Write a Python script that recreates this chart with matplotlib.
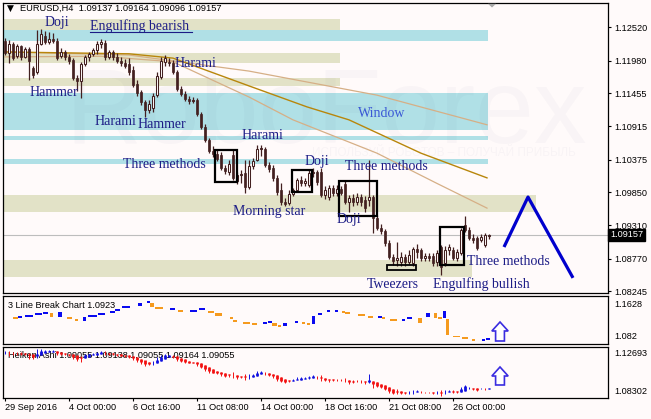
import matplotlib
matplotlib.use("Agg")
import matplotlib.pyplot as plt
import matplotlib.transforms as mtransforms
from matplotlib.patches import Rectangle, Polygon
import numpy as np

# ---------------- data ----------------
opens = [1.1230, 1.1210, 1.1225, 1.1205, 1.1222, 1.1204, 1.1217, 1.1186, 1.1180, 1.1225,
         1.1238, 1.1228, 1.1233, 1.1230, 1.1205, 1.1212, 1.1204, 1.1199, 1.1170, 1.1165,
         1.1192, 1.1204, 1.1209, 1.1215, 1.1225, 1.1227, 1.1204, 1.1212, 1.1204, 1.1197,
         1.1194, 1.1192, 1.1183, 1.1160, 1.1147, 1.1131, 1.1118, 1.1121, 1.1142, 1.1171,
         1.1196, 1.1196, 1.1194, 1.1180, 1.1152, 1.1144, 1.1136, 1.1132, 1.1134, 1.1111,
         1.1090, 1.1069, 1.1051, 1.1046, 1.1045, 1.1024, 1.1017, 1.1045, 1.1003, 1.1012,
         1.1016, 1.0993, 1.1027, 1.1037, 1.1054, 1.1054, 1.1029, 1.1024, 1.1008, 1.0988,
         1.0969, 1.0967, 1.0982, 1.0988, 1.1005, 1.0999, 1.0996, 1.1016, 1.1017, 1.1017,
         1.0980, 1.0977, 1.0991, 1.0983, 1.0990, 1.0998, 1.0969, 1.0975, 1.0969, 1.0977,
         1.0972, 1.0972, 1.0977, 1.0943, 1.0927, 1.0922, 1.0902, 1.0880, 1.0875, 1.0872,
         1.0880, 1.0872, 1.0870, 1.0893, 1.0891, 1.0878, 1.0881, 1.0881, 1.0872, 1.0896,
         1.0870, 1.0891, 1.0891, 1.0878, 1.0886, 1.0932, 1.0924, 1.0910, 1.0910, 1.0907,
         1.0899, 1.09137]
highs = [1.1235, 1.1231, 1.1228, 1.1225, 1.1223, 1.1220, 1.1220, 1.1189, 1.1248, 1.1249,
         1.1246, 1.1244, 1.1243, 1.1235, 1.1218, 1.1215, 1.1209, 1.1202, 1.1175, 1.1196,
         1.1207, 1.1212, 1.1218, 1.1230, 1.1233, 1.1231, 1.1215, 1.1215, 1.1210, 1.1204,
         1.1201, 1.1202, 1.1189, 1.1167, 1.1150, 1.1134, 1.1134, 1.1146, 1.1180, 1.1204,
         1.1207, 1.1202, 1.1199, 1.1183, 1.1157, 1.1149, 1.1141, 1.1139, 1.1137, 1.1115,
         1.1095, 1.1072, 1.1059, 1.1053, 1.1050, 1.1029, 1.1037, 1.1053, 1.1017, 1.1021,
         1.1037, 1.1037, 1.1040, 1.1061, 1.1061, 1.1058, 1.1034, 1.1029, 1.1012, 1.0999,
         1.0975, 1.0988, 1.0991, 1.1008, 1.1011, 1.1008, 1.1021, 1.1024, 1.1021, 1.1024,
         1.0995, 1.0996, 1.0996, 1.0996, 1.0995, 1.1003, 1.0980, 1.0982, 1.0983, 1.0982,
         1.0978, 1.1037, 1.0980, 1.0948, 1.0933, 1.0925, 1.0907, 1.0885, 1.0904, 1.0888,
         1.0885, 1.0891, 1.0896, 1.0901, 1.0894, 1.0886, 1.0886, 1.0886, 1.0891, 1.0899,
         1.0898, 1.0901, 1.0896, 1.0893, 1.0927, 1.0946, 1.0928, 1.0917, 1.0914, 1.0917,
         1.0919, 1.09164]
lows = [1.1207, 1.1194, 1.1199, 1.1202, 1.1199, 1.1202, 1.1167, 1.1170, 1.1176, 1.1223,
        1.1225, 1.1225, 1.1227, 1.1199, 1.1202, 1.1199, 1.1192, 1.1167, 1.1149, 1.1137,
        1.1189, 1.1197, 1.1205, 1.1209, 1.1218, 1.1199, 1.1201, 1.1199, 1.1194, 1.1189,
        1.1186, 1.1175, 1.1155, 1.1141, 1.1126, 1.1106, 1.1113, 1.1115, 1.1139, 1.1168,
        1.1189, 1.1189, 1.1176, 1.1149, 1.1141, 1.1132, 1.1128, 1.1129, 1.1108, 1.1087,
        1.1066, 1.1048, 1.1042, 1.1035, 1.1021, 1.1014, 1.1012, 1.1005, 1.0998, 1.0999,
        1.0983, 1.0990, 1.1022, 1.1035, 1.1043, 1.1025, 1.1017, 1.1003, 1.0980, 1.0964,
        1.0962, 1.0964, 1.0978, 1.0985, 1.0995, 1.0995, 1.0993, 1.1009, 1.0996, 1.0977,
        1.0974, 1.0972, 1.0978, 1.0978, 1.0980, 1.0966, 1.0953, 1.0962, 1.0964, 1.0962,
        1.0953, 1.0962, 1.0919, 1.0924, 1.0917, 1.0898, 1.0876, 1.0867, 1.0865, 1.0865,
        1.0865, 1.0868, 1.0865, 1.0878, 1.0873, 1.0873, 1.0873, 1.0865, 1.0865, 1.0851,
        1.0865, 1.0883, 1.0875, 1.0873, 1.0883, 1.0920, 1.0907, 1.0902, 1.0891, 1.0904,
        1.0896, 1.09096]
closes = [1.1210, 1.1225, 1.1202, 1.1222, 1.1204, 1.1217, 1.1197, 1.1175, 1.1225, 1.1241,
          1.1228, 1.1233, 1.1230, 1.1202, 1.1212, 1.1204, 1.1197, 1.1170, 1.1165, 1.1192,
          1.1204, 1.1209, 1.1215, 1.1225, 1.1228, 1.1204, 1.1212, 1.1204, 1.1197, 1.1194,
          1.1189, 1.1180, 1.1158, 1.1146, 1.1131, 1.1118, 1.1128, 1.1141, 1.1173, 1.1197,
          1.1202, 1.1194, 1.1180, 1.1152, 1.1144, 1.1136, 1.1132, 1.1134, 1.1111, 1.1090,
          1.1069, 1.1051, 1.1046, 1.1038, 1.1024, 1.1019, 1.1030, 1.1008, 1.1012, 1.1014,
          1.0993, 1.1027, 1.1035, 1.1054, 1.1056, 1.1029, 1.1022, 1.1008, 1.0985, 1.0969,
          1.0966, 1.0982, 1.0988, 1.1005, 1.0999, 1.1003, 1.1016, 1.1017, 1.1001, 1.0980,
          1.0988, 1.0991, 1.0983, 1.0990, 1.0983, 1.0969, 1.0975, 1.0969, 1.0977, 1.0969,
          1.0959, 1.0977, 1.0943, 1.0927, 1.0922, 1.0902, 1.0880, 1.0873, 1.0878, 1.0880,
          1.0872, 1.0883, 1.0893, 1.0888, 1.0878, 1.0881, 1.0878, 1.0870, 1.0886, 1.0863,
          1.0891, 1.0896, 1.0878, 1.0888, 1.0924, 1.0924, 1.0910, 1.0907, 1.0894, 1.0912,
          1.0915, 1.09157]

# moving averages (bar index, price)
ma_slow_x = [0, 31, 61, 93, 120.5]
ma_slow_y = [1.1212, 1.1207, 1.1181, 1.1142, 1.1094]
ma_mid_x = [0, 31, 42, 61, 75.5, 86, 104, 120.5]
ma_mid_y = [1.1212, 1.1209, 1.1202, 1.1157, 1.1123, 1.1102, 1.1048, 1.1008]
ma_fast_x = [0, 24, 42, 61, 72, 93, 108, 120.5]
ma_fast_y = [1.1204, 1.1205, 1.1196, 1.1139, 1.1102, 1.1048, 1.0999, 1.0959]

# support / resistance zones: (top, bottom, end bar, kind)
zone_top = [1.1265, 1.1248, 1.1210, 1.1170, 1.1146, 1.1076, 1.1038, 1.0980, 1.0875]
zone_bot = [1.1248, 1.1230, 1.1194, 1.1157, 1.1086, 1.1069, 1.1030, 1.0953, 1.0847]
zone_end = [83.75, 120.75, 83.75, 83.75, 120.75, 120.75, 120.75, 132.75, 116.75]
zone_kind = ["b", "w", "b", "b", "w", "w", "w", "b", "b"]

# forecast zigzag
zig_x = [124.75, 130.75, 142]
zig_y = [1.0896, 1.0977, 1.0846]

price_ticks = [1.12520, 1.11980, 1.11455, 1.10915, 1.10375, 1.09850, 1.09310, 1.08770, 1.08245]
last_price = 1.09157

# 3 Line Break bricks
lb_start = [2, 3.25, 5, 7.5, 9.5, 11.25, 13.25, 15.5, 17.5, 19.5, 20.75, 23.25, 26.25, 27.5, 29.25,
            33.25, 35.5, 36.25, 37.5, 41.25, 43.25, 46.25, 48.5, 50.75, 52.5, 56.25, 57, 59.5, 61.75,
            64.5, 65.75, 66.75, 68.25, 69.5, 72.5, 74.25, 75.5, 76.75, 78.25, 80.5, 82.5, 84.25, 85,
            88.25, 90.75, 93.25, 94.25, 96.25, 99.25, 100.5, 103.25, 105.25, 107.25, 108.25, 109.5,
            110.25, 112, 114.25, 116.75, 119.25, 120.25]
lb_end = [3.25, 4.25, 7, 9.25, 10.75, 12, 14.25, 16.75, 18.25, 20.25, 23, 25, 27.5, 28.75, 31.25,
          34.25, 36.25, 37.25, 39.5, 42.5, 44.5, 48, 50, 52.25, 54.25, 57, 58, 61.25, 63,
          65.5, 66.75, 68, 69, 70.5, 73.25, 75, 76.25, 77.5, 79.25, 81.25, 83.25, 85, 86.25,
          90, 92, 94.25, 95, 98, 100, 101.75, 104.25, 106.25, 108, 109.25, 110.25,
          111, 113.75, 115.75, 117.5, 120, 121.25]
lb_high = [1.1258, 1.1274, 1.1291, 1.1325, 1.1342, 1.1342, 1.1359, 1.1258, 1.1224, 1.1274, 1.1291,
           1.1325, 1.1359, 1.1392, 1.1443, 1.1510, 1.1544, 1.1510, 1.1426, 1.1409, 1.1375, 1.1375,
           1.1409, 1.1359, 1.1342, 1.1258, 1.1207, 1.1173, 1.1157, 1.1173, 1.1190, 1.1173, 1.1123,
           1.1173, 1.1190, 1.1190, 1.1157, 1.1291, 1.1342, 1.1375, 1.1375, 1.1375, 1.1342, 1.1308,
           1.1274, 1.1274, 1.1258, 1.1224, 1.1224, 1.1258, 1.1258, 1.1342, 1.1342, 1.1258, 1.1375,
           1.1241, 1.0946, 1.0921, 1.0887, 1.0887, 1.0921]
lb_low = [1.1258, 1.1274, 1.1291, 1.1325, 1.1342, 1.1274, 1.1274, 1.1258, 1.1224, 1.1207, 1.1291,
          1.1325, 1.1359, 1.1392, 1.1443, 1.1460, 1.1510, 1.1443, 1.1426, 1.1409, 1.1375, 1.1375,
          1.1409, 1.1359, 1.1291, 1.1258, 1.1207, 1.1173, 1.1157, 1.1173, 1.1190, 1.1123, 1.1123,
          1.1123, 1.1190, 1.1157, 1.1157, 1.1157, 1.1308, 1.1375, 1.1375, 1.1342, 1.1342, 1.1308,
          1.1274, 1.1274, 1.1258, 1.1224, 1.1224, 1.1258, 1.1173, 1.1274, 1.1258, 1.1258, 1.1258,
          1.0971, 1.0946, 1.0921, 1.0887, 1.0887, 1.0887]
lb_up = [0, 1, 1, 1, 1, 0, 1, 0, 0, 1, 1, 1, 1, 1, 1, 1, 1, 0, 0, 1, 0, 1, 1, 0, 0, 0, 0, 0, 0,
         1, 1, 0, 0, 1, 1, 0, 0, 1, 1, 1, 1, 0, 0, 0, 0, 1, 0, 0, 1, 1, 0, 1, 0, 0, 1,
         0, 0, 0, 0, 1, 1]

x_tick_pos = [0, 16, 32, 48, 64, 80, 96, 112]
x_tick_lab = ["29 Sep 2016", "4 Oct 00:00", "6 Oct 16:00", "11 Oct 08:00",
              "14 Oct 00:00", "18 Oct 16:00", "21 Oct 08:00", "26 Oct 00:00"]

# ---------------- style ----------------
BG = "#FFFAFA"
CANDLE = "#432020"
BEIGE = "#E2E2C7"
BLUEZ = "#B0E0E6"
TXT = "#1C1C86"
SANS = "Liberation Sans"
SERIF = "Liberation Serif"
FS = 6.6

fig = plt.figure(figsize=(6.51, 4.19), dpi=100, facecolor=BG)
W, H = 651.0, 419.0
ax = fig.add_axes([3 / W, 1 - 293 / H, 605 / W, 290 / H])
ax2 = fig.add_axes([3 / W, 1 - 344 / H, 605 / W, 48 / H])
ax3 = fig.add_axes([3 / W, 1 - 398 / H, 605 / W, 51 / H])

XL = (-0.5, 150.75)
for a in (ax, ax2, ax3):
    a.set_facecolor(BG)
    a.set_xlim(*XL)
    for s in a.spines.values():
        s.set_linewidth(0.9)
        s.set_color("black")

n = len(closes)
xs = np.arange(n)
o = np.array(opens); h = np.array(highs); l = np.array(lows); c = np.array(closes)

# ---------------- main panel ----------------
ax.set_ylim(1.08215, 1.12913)
for top, bot, xe, kind in zip(zone_top, zone_bot, zone_end, zone_kind):
    ax.add_patch(Rectangle((XL[0], bot), xe - XL[0], top - bot,
                           fc=BEIGE if kind == "b" else BLUEZ, ec="none", zorder=1))

# watermark
ax.text(15, 1.1065, "RoboForex", fontsize=76, family=SANS, color="#303070", alpha=0.028,
        ha="left", va="baseline", zorder=1.5)
ax.text(76.75, 1.1048, "ИСПОЛЬЗУЙ РОБОТОВ – ПОЛУЧАЙ ПРИБЫЛЬ", fontsize=8.5, family=SANS,
        color="#303070", alpha=0.03, ha="left", va="center", zorder=1.5)

ax.axhline(last_price, color="#BDBDBD", lw=0.8, zorder=1.6)

ax.plot(ma_slow_x, ma_slow_y, color="#D6AF86", lw=0.9, zorder=2)
ax.plot(ma_fast_x, ma_fast_y, color="#D6AF86", lw=0.9, zorder=2)
ax.plot(ma_mid_x, ma_mid_y, color="#B8860B", lw=1.0, zorder=2)

bw = 0.74
for i in range(n):
    ax.vlines(xs[i], l[i], h[i], color=CANDLE, lw=0.9, zorder=3)
    lo_b, hi_b = min(o[i], c[i]), max(o[i], c[i])
    hgt = max(hi_b - lo_b, 0.00008)
    if c[i] >= o[i]:
        ax.add_patch(Rectangle((xs[i] - bw / 2, lo_b), bw, hgt, fc=BG, ec=CANDLE, lw=0.75, zorder=4))
    else:
        ax.add_patch(Rectangle((xs[i] - bw / 2, lo_b), bw, hgt, fc=CANDLE, ec=CANDLE, lw=0.5, zorder=4))

# pattern boxes
boxes = [(52.5, 1.1001, 58.0, 1.1053), (71.75, 1.0985, 76.75, 1.1021),
         (83.5, 1.0946, 93.0, 1.1003), (108.75, 1.0867, 114.75, 1.0928)]
for x0, y0, x1, y1 in boxes:
    ax.add_patch(Rectangle((x0, y0), x1 - x0, y1 - y0, fill=False, ec="black", lw=1.6, zorder=5))
ax.add_patch(Rectangle((95.5, 1.0859), 7.25, 0.0008, fill=False, ec="black", lw=1.3, zorder=5))

ax.plot(zig_x, zig_y, color="#0000CD", lw=2.3, zorder=5, solid_capstyle="butt")

labels = [("Doji", 10, 1.1259), ("Engulfing bearish", 21.25, 1.1254), ("Harami", 42.5, 1.1194),
          ("Hammer", 6.25, 1.1146), ("Harami", 22.5, 1.1100), ("Hammer", 33.25, 1.1094),
          ("Harami", 59.25, 1.1077), ("Three methods", 29.5, 1.1029), ("Doji", 75, 1.1034),
          ("Three methods", 85, 1.1026), ("Morning star", 57, 1.0954), ("Doji", 83, 1.0941),
          ("Tweezers", 90.5, 1.0836), ("Engulfing bullish", 107, 1.0836),
          ("Three methods", 115.5, 1.0873)]
for s, x, y in labels:
    ax.text(x, y, s, fontsize=10, family=SERIF, color=TXT, ha="left", va="center", zorder=6)
ax.plot([21.25, 46.75], [1.1245, 1.1245], color=TXT, lw=0.8, zorder=6)
ax.text(88.25, 1.1113, "Window", fontsize=10, family=SERIF, color="#3A58D6",
        ha="left", va="center", zorder=6)

ax.add_patch(Polygon([[120.75, 1.1290], [122.75, 1.1290], [121.75, 1.1284]],
                     closed=True, fc="#A8A8A8", ec="none", zorder=6))

ax.yaxis.tick_right()
ax.set_yticks(price_ticks)
ax.set_yticklabels([f"{v:.5f}" for v in price_ticks], family=SANS, fontsize=FS)
ax.tick_params(axis="y", length=2.2, width=0.8, pad=2.2, direction="out")
ax.set_xticks([])

bt = mtransforms.blended_transform_factory(ax.transAxes, ax.transData)
ax.text(1.0035, last_price, f"{last_price:.5f}", transform=bt, fontsize=FS, family=SANS,
        color="white", ha="left", va="center", zorder=10, clip_on=False,
        bbox=dict(boxstyle="square,pad=0.18", fc="black", ec="black"))

ax.text(0.4, 1.12820, "▼", fontsize=6.5, family="DejaVu Sans", color="black",
        ha="left", va="center", zorder=7)
ax.text(3.75, 1.12820, "EURUSD,H4  1.09137 1.09164 1.09096 1.09157", fontsize=FS + 0.1,
        family=SANS, color="black", ha="left", va="center", zorder=7)

# ---------------- 3 line break panel ----------------
ax2.set_ylim(1.082, 1.1628)
for x0, x1, hi, lo, up in zip(lb_start, lb_end, lb_high, lb_low, lb_up):
    col = "#0A0AF0" if up else "#F59A1E"
    if hi - lo < 0.003:
        ax2.add_patch(Rectangle((x0, lo - 0.0014), x1 - x0, 0.0028, fc=col, ec="none", zorder=3))
    else:
        ax2.add_patch(Rectangle((x0, lo), x1 - x0, hi - lo, fc=col, ec="none", zorder=3))
ax2.set_xticks([]); ax2.set_yticks([])
ax2.text(0.008, 0.81, "3 Line Break Chart 1.0923", transform=ax2.transAxes, fontsize=FS,
         family=SANS, color="black", ha="left", va="center")
ax2.text(1.0099, 0.833, "1.1628", transform=ax2.transAxes, fontsize=FS, family=SANS,
         ha="left", va="center", clip_on=False)
ax2.text(1.0099, 0.146, "1.082", transform=ax2.transAxes, fontsize=FS, family=SANS,
         ha="left", va="center", clip_on=False)


def up_arrow(a, x0, x1, tip, base, bottom):
    xm = (x0 + x1) / 2
    sw = (x1 - x0) * 0.27
    pts = [[xm, tip], [x1, base], [xm + sw, base], [xm + sw, bottom],
           [xm - sw, bottom], [xm - sw, base], [x0, base]]
    a.add_patch(Polygon(pts, closed=True, transform=a.transAxes, fc="white",
                        ec="#3A2CE0", lw=1.2, zorder=8))


up_arrow(ax2, 0.808, 0.835, 0.458, 0.271, 0.0625)

# ---------------- heiken ashi panel ----------------
ha_c = (o + h + l + c) / 4
ha_o = np.empty(n)
ha_o[0] = (o[0] + c[0]) / 2
for i in range(1, n):
    ha_o[i] = (ha_o[i - 1] + ha_c[i - 1]) / 2
ha_h = np.maximum.reduce([h, ha_o, ha_c])
ha_l = np.minimum.reduce([l, ha_o, ha_c])

ax3.set_ylim(1.08302, 1.12693)
ax3.text(0.008, 0.843, "Heiken Ashi 1.09055 1.09138 1.09055 1.09164 1.09055",
         transform=ax3.transAxes, fontsize=FS, family=SANS, color="black",
         ha="left", va="center", zorder=2)
for i in range(n):
    col = "#1010E0" if ha_c[i] >= ha_o[i] else "#F21010"
    ax3.vlines(xs[i], ha_l[i], ha_h[i], color=col, lw=0.7, zorder=3)
    ax3.vlines(xs[i], min(ha_o[i], ha_c[i]), max(ha_o[i], ha_c[i]) + 0.00012,
               color=col, lw=2.0, zorder=3)
up_arrow(ax3, 0.808, 0.835, 0.608, 0.431, 0.255)

ax3.set_yticks([])
ax3.set_xticks(x_tick_pos)
ax3.set_xticklabels(x_tick_lab, family=SANS, fontsize=FS, ha="left")
ax3.tick_params(axis="x", length=2.2, width=0.8, pad=1.5, direction="out")
ax3.text(1.0099, 0.882, "1.12693", transform=ax3.transAxes, fontsize=FS, family=SANS,
         ha="left", va="center", clip_on=False)
ax3.text(1.0099, 0.118, "1.08302", transform=ax3.transAxes, fontsize=FS, family=SANS,
         ha="left", va="center", clip_on=False)

fig.savefig("out.png", dpi=100, facecolor=BG)
